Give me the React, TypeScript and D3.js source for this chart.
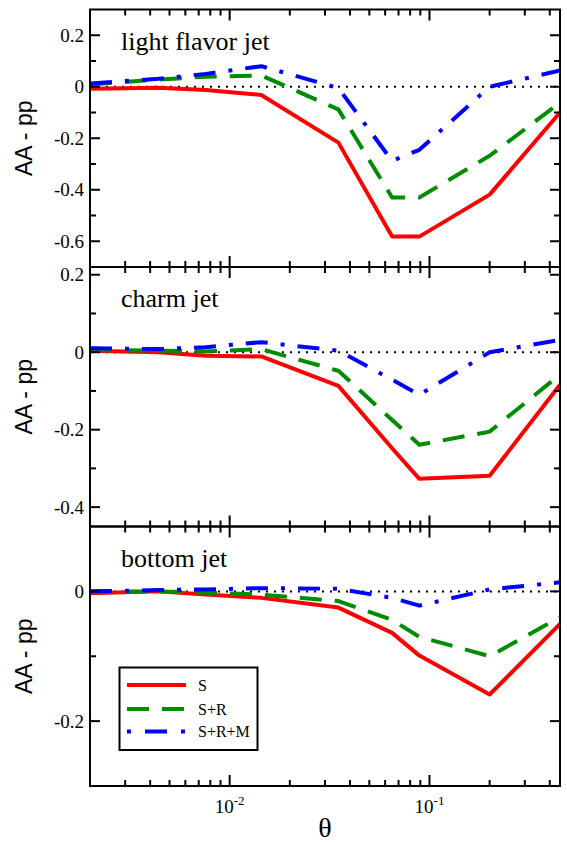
import { useEffect, useRef } from "react";
import * as d3 from "d3";

// theta bins (shared by all panels)
const thetaVals = [0.002, 0.0044, 0.0076, 0.0144, 0.035, 0.065, 0.089, 0.2, 0.45];

const lightS = [-0.008, -0.004, -0.013, -0.032, -0.217, -0.582, -0.582, -0.419, -0.1];
const lightSR = [0.009, 0.028, 0.039, 0.044, -0.088, -0.43, -0.43, -0.268, -0.062];
const lightSRM = [0.013, 0.031, 0.05, 0.08, -0.005, -0.288, -0.245, 0.0, 0.063];

const charmS = [0.004, 0.0, -0.009, -0.011, -0.087, -0.248, -0.327, -0.319, -0.084];
const charmSR = [0.006, 0.004, 0.002, 0.008, -0.048, -0.175, -0.239, -0.205, -0.058];
const charmSRM = [0.01, 0.008, 0.013, 0.026, 0.004, -0.071, -0.11, 0.0, 0.032];

const bottomS = [-0.003, 0.0, -0.005, -0.01, -0.025, -0.064, -0.099, -0.159, -0.05];
const bottomSR = [0.0, 0.0, -0.002, -0.005, -0.015, -0.044, -0.07, -0.1, -0.04];
const bottomSRM = [0.0, 0.002, 0.003, 0.005, 0.004, -0.01, -0.022, 0.003, 0.014];

const panelNames = ["light flavor jet", "charm jet", "bottom jet"];
const yDomains = [[-0.7, 0.3], [-0.45, 0.22], [-0.3, 0.1]];
const yMajor = [[0.2, 0, -0.2, -0.4, -0.6], [0.2, 0, -0.2, -0.4], [0, -0.2]];
const yMajorLabels = [["0.2", "0", "-0.2", "-0.4", "-0.6"], ["0.2", "0", "-0.2", "-0.4"], ["0", "-0.2"]];
const yMinor = [[0.1, -0.1, -0.3, -0.5], [0.1, -0.1, -0.3], [0.1, -0.1, -0.3]];
const panelSeries = [
  [lightS, lightSR, lightSRM],
  [charmS, charmSR, charmSRM],
  [bottomS, bottomSR, bottomSRM],
];
const seriesNames = ["S", "S+R", "S+R+M"];
const seriesColors = ["#ff0000", "#008c00", "#0000ff"];
const seriesDash = [null, "22,13", "22,13,4,13"];
const legendDash = [null, "22,13", "4,14,22,14"];

const SERIF = '"Liberation Serif", "DejaVu Serif", serif';
const SANS = '"Liberation Sans", Arial, Helvetica, sans-serif';

export default function App() {
  const ref = useRef<SVGSVGElement>(null);

  useEffect(() => {
    const svg = d3.select(ref.current);
    svg.selectAll("*").remove();

    const left = 90, right = 560;
    const bounds = [9.5, 267, 526.5, 786];

    const x = d3.scaleLog().domain([0.002, 0.45]).range([left, right]);

    // log ticks 2..9 per decade
    const xTicks: { v: number; major: boolean }[] = [];
    for (let d = -3; d <= -1; d++) {
      for (let k = 1; k <= 9; k++) {
        const v = k * Math.pow(10, d);
        if (v > 0.00201 && v < 0.449) xTicks.push({ v, major: k === 1 });
      }
    }

    const line = d3.line<[number, number]>();

    panelNames.forEach((name, i) => {
      const top = bounds[i], bot = bounds[i + 1];
      const y = d3.scaleLinear().domain(yDomains[i]).range([bot, top]);
      const g = svg.append("g");

      const clipId = "clip" + i;
      g.append("clipPath").attr("id", clipId)
        .append("rect").attr("x", left).attr("y", top).attr("width", right - left).attr("height", bot - top);

      // zero line (dotted)
      g.append("line")
        .attr("x1", left).attr("x2", right).attr("y1", y(0)).attr("y2", y(0))
        .attr("stroke", "#000").attr("stroke-width", 2).attr("stroke-dasharray", "2,6");

      const plot = g.append("g").attr("clip-path", `url(#${clipId})`);
      panelSeries[i].forEach((vals, s) => {
        const pts = thetaVals.map((t, j) => [x(t), y(vals[j])] as [number, number]);
        const p = plot.append("path")
          .attr("d", line(pts))
          .attr("fill", "none")
          .attr("stroke", seriesColors[s])
          .attr("stroke-width", 4)
          .attr("stroke-linejoin", "round");
        if (seriesDash[s]) p.attr("stroke-dasharray", seriesDash[s]);
      });

      // frame
      g.append("rect")
        .attr("x", left).attr("y", top).attr("width", right - left).attr("height", bot - top)
        .attr("fill", "none").attr("stroke", "#000").attr("stroke-width", 2);

      // y ticks left + right
      const yt = [
        ...yMajor[i].map(v => ({ v, len: 10 })),
        ...yMinor[i].map(v => ({ v, len: 6 })),
      ];
      yt.forEach(t => {
        const yy = y(t.v);
        if (yy <= top + 1 || yy >= bot - 1) return;
        g.append("line").attr("x1", left).attr("x2", left + t.len).attr("y1", yy).attr("y2", yy)
          .attr("stroke", "#000").attr("stroke-width", 2);
        g.append("line").attr("x1", right).attr("x2", right - t.len).attr("y1", yy).attr("y2", yy)
          .attr("stroke", "#000").attr("stroke-width", 2);
      });
      yMajor[i].forEach((v, k) => {
        g.append("text")
          .attr("x", left - 6).attr("y", y(v) + 6.5)
          .attr("text-anchor", "end")
          .style("font-family", SERIF).style("font-size", "19px")
          .text(yMajorLabels[i][k]);
      });

      // x ticks top + bottom
      xTicks.forEach(t => {
        const xx = x(t.v);
        const len = t.major ? 11 : 6;
        g.append("line").attr("x1", xx).attr("x2", xx).attr("y1", bot).attr("y2", bot - len)
          .attr("stroke", "#000").attr("stroke-width", 2);
        g.append("line").attr("x1", xx).attr("x2", xx).attr("y1", top).attr("y2", top + len)
          .attr("stroke", "#000").attr("stroke-width", 2);
      });

      // panel title
      g.append("text")
        .attr("x", 121).attr("y", top + 40)
        .style("font-family", SERIF).style("font-size", "26px")
        .text(name);

      // y axis title
      const cy = (top + bot) / 2;
      g.append("text")
        .attr("transform", `translate(32,${cy}) rotate(-90)`)
        .attr("text-anchor", "middle")
        .style("font-family", SANS).style("font-size", "23px")
        .text("AA - pp");
    });

    // x tick labels
    const bottom = bounds[3];
    [0.01, 0.1].forEach((v, k) => {
      const t = svg.append("text")
        .attr("x", x(v)).attr("y", bottom + 27)
        .attr("text-anchor", "middle")
        .style("font-family", SERIF).style("font-size", "19px");
      t.append("tspan").text("10");
      t.append("tspan").attr("dy", -8).style("font-size", "13px").text(k === 0 ? "-2" : "-1");
    });

    svg.append("text")
      .attr("x", (left + right) / 2).attr("y", 837)
      .attr("text-anchor", "middle")
      .style("font-family", SERIF).style("font-size", "28px")
      .text("θ");

    // legend
    const lg = svg.append("g");
    lg.append("rect")
      .attr("x", 119.5).attr("y", 667.5).attr("width", 138).attr("height", 82.5)
      .attr("fill", "#fff").attr("stroke", "#000").attr("stroke-width", 2);
    const ly = [685, 709, 731.5];
    seriesNames.forEach((n, s) => {
      const l = lg.append("line")
        .attr("x1", 127).attr("x2", 186).attr("y1", ly[s]).attr("y2", ly[s])
        .attr("stroke", seriesColors[s]).attr("stroke-width", 4);
      if (legendDash[s]) l.attr("stroke-dasharray", legendDash[s]);
      lg.append("text")
        .attr("x", 198).attr("y", ly[s] + 5.5)
        .style("font-family", SERIF).style("font-size", "16px")
        .text(n);
    });
  }, []);

  return (
    <svg
      ref={ref}
      width={567}
      height={842}
      style={{ position: "absolute", left: 0, top: 0, background: "#fff" }}
    />
  );
}
